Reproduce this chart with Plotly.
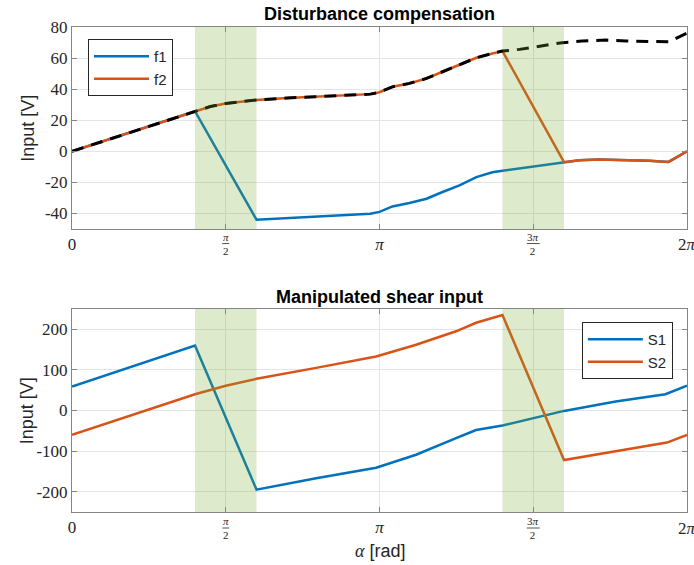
import numpy as np
import plotly.graph_objects as go

PI = np.pi

# ---- Disturbance compensation (angles given in multiples of pi) ----
f1_a = [0, 0.1, 0.2, 0.3, 0.4, 0.6, 0.7, 0.8, 0.9, 0.97, 1.0, 1.042, 1.097, 1.153,
        1.205, 1.26, 1.315, 1.367, 1.4, 1.6, 1.65, 1.714, 1.8, 1.877, 1.94, 2.0]
f1_v = [0, 6.5, 13, 19.5, 25.8, -44, -43, -42, -41, -40.2, -39, -35.5, -33.3, -30.5,
        -26.2, -21.9, -16.6, -13.5, -12.5, -7, -5.8, -5.3, -5.7, -6.0, -6.8, 0]

f2_a = [0, 0.1, 0.2, 0.3, 0.4, 0.45, 0.5, 0.55, 0.6, 0.7, 0.8, 0.9, 0.97, 1.0, 1.042,
        1.097, 1.153, 1.205, 1.26, 1.315, 1.367, 1.4, 1.6, 1.65, 1.714, 1.8, 1.877, 1.94, 2.0]
f2_v = [0, 6.5, 13, 19.5, 25.8, 28.8, 30.8, 32.1, 33.0, 34.3, 35.3, 36.2, 36.8, 38.0, 41.5,
        43.7, 46.9, 51.2, 55.5, 60.2, 63.0, 64.5, -7, -5.8, -5.3, -5.7, -6.0, -6.8, 0]

ref_a = [0, 0.1, 0.2, 0.3, 0.4, 0.45, 0.5, 0.55, 0.6, 0.7, 0.8, 0.9, 0.97, 1.0, 1.042,
         1.097, 1.153, 1.205, 1.26, 1.315, 1.367, 1.4, 1.455, 1.519, 1.594, 1.659,
         1.737, 1.802, 1.877, 1.94, 2.0]
ref_v = [0, 6.5, 13, 19.5, 25.8, 28.8, 30.8, 32.1, 33.0, 34.3, 35.3, 36.2, 36.8, 38.0, 41.5,
         43.7, 46.9, 51.2, 55.5, 60.2, 63.0, 64.5, 65.6, 67.7, 69.9, 71.0,
         71.6, 71.0, 70.5, 70.5, 76]

# ---- Manipulated shear input ----
s1_a = [0, 0.4, 0.6, 0.794, 0.989, 1.119, 1.249, 1.314, 1.4, 1.6, 1.768, 1.93, 2.0]
s1_v = [59, 160, -195, -167, -141, -109, -68, -48, -37, -1, 22, 40, 61]

s2_a = [0, 0.4, 0.5, 0.6, 0.794, 0.989, 1.119, 1.249, 1.314, 1.4, 1.6, 1.768, 1.935, 2.0]
s2_v = [-60, 40, 61, 78, 105, 133, 162, 195, 216, 235, -122, -101, -79, -60]

# switching intervals (multiples of pi)
bands = [(0.4, 0.6), (1.4, 1.6)]

x_ticks = [0, 0.5, 1.0, 1.5, 2.0]
x_ticktext = ["0", "", "<i>π</i>", "", ""]
frac_ticks = [(0.5, "<i>π</i>", 3.5), (1.5, "3<i>π</i>", 6.5)]
end_tick = (2.0, "2<i>π</i>")

y1_ticks = [-40, -20, 0, 20, 40, 60, 80]
y2_ticks = [-200, -100, 0, 100, 200]

BLUE = "#0072BD"
ORANGE = "#D95319"
AX = "#858585"
TXT = "#262626"
SERIF = "Liberation Serif"
SANS = "Liberation Sans"


def rad(vals):
    return [v * PI for v in vals]


fig = go.Figure()
fig.add_trace(go.Scatter(x=rad(f1_a), y=f1_v, name="f1", mode="lines",
                         line=dict(color=BLUE, width=2.5), xaxis="x", yaxis="y",
                         legend="legend"))
fig.add_trace(go.Scatter(x=rad(f2_a), y=f2_v, name="f2", mode="lines",
                         line=dict(color=ORANGE, width=2.5), xaxis="x", yaxis="y",
                         legend="legend"))
fig.add_trace(go.Scatter(x=rad(ref_a), y=ref_v, mode="lines", showlegend=False,
                         line=dict(color="black", width=3, dash="12px,8px"),
                         xaxis="x", yaxis="y"))
fig.add_trace(go.Scatter(x=rad(s1_a), y=s1_v, name="S1", mode="lines",
                         line=dict(color=BLUE, width=2.5), xaxis="x2", yaxis="y2",
                         legend="legend2"))
fig.add_trace(go.Scatter(x=rad(s2_a), y=s2_v, name="S2", mode="lines",
                         line=dict(color=ORANGE, width=2.5), xaxis="x2", yaxis="y2",
                         legend="legend2"))

axis_common = dict(
    showline=True, mirror="ticks", linecolor=AX, linewidth=1,
    ticks="inside", ticklen=5, tickcolor=AX,
    showgrid=True, gridcolor="#e4e4e4", gridwidth=1, zeroline=False,
    tickfont=dict(family=SERIF, size=17, color=TXT),
)

shapes = []
for xa, ya in (("x", "y"), ("x2", "y2")):
    for b0, b1 in bands:
        shapes.append(dict(type="rect", xref=xa, yref=f"{ya} domain",
                           x0=b0 * PI, x1=b1 * PI, y0=0, y1=1,
                           fillcolor="rgba(119,172,48,0.25)", line=dict(width=0),
                           layer="above"))

annotations = []
# stacked fraction tick labels and the 2π end label below each axis
for xa, ybar, ylab in (("x", 0.5525, 0.5525), ("x2", -0.034, -0.034)):
    for pos, num, half in frac_ticks:
        annotations.append(dict(xref=xa, yref="paper", x=pos * PI, y=ybar,
                                text=num + "<br>2", showarrow=False,
                                font=dict(family=SERIF, size=11, color=TXT),
                                xanchor="center", yanchor="middle"))
        shapes.append(dict(type="line", xref=xa, yref="paper",
                           x0=pos * PI - half * PI / 308, x1=pos * PI + half * PI / 308,
                           y0=ybar + 0.001, y1=ybar + 0.001,
                           line=dict(color=TXT, width=0.8), layer="above"))
    annotations.append(dict(xref=xa, yref="paper", x=end_tick[0] * PI, y=ylab,
                            text=end_tick[1], showarrow=False,
                            font=dict(family=SERIF, size=17, color=TXT),
                            xanchor="center", yanchor="middle"))

annotations += [
    dict(xref="paper", yref="paper", x=0.5008, y=1.0268, text="<b>Disturbance compensation</b>",
         showarrow=False, font=dict(family=SANS, size=18, color="black"),
         xanchor="center", yanchor="middle"),
    dict(xref="paper", yref="paper", x=0.5008, y=0.4433, text="<b>Manipulated shear input</b>",
         showarrow=False, font=dict(family=SANS, size=18, color="black"),
         xanchor="center", yanchor="middle"),
    dict(xref="paper", yref="paper", x=-0.072, y=0.7917, text="Input [V]",
         showarrow=False, textangle=-90, font=dict(family=SANS, size=18, color=TXT),
         xanchor="center", yanchor="middle"),
    dict(xref="paper", yref="paper", x=-0.072, y=0.2093, text="Input [V]",
         showarrow=False, textangle=-90, font=dict(family=SANS, size=18, color=TXT),
         xanchor="center", yanchor="middle"),
    dict(xref="paper", yref="paper", x=0.5008, y=-0.080,
         text="<span style='font-family:Liberation Serif'><i>α</i></span> [rad]",
         showarrow=False, font=dict(family=SANS, size=18, color=TXT),
         xanchor="center", yanchor="middle"),
]

legend_style = dict(bgcolor="white", bordercolor=TXT, borderwidth=1,
                    font=dict(family=SANS, size=15, color=TXT),
                    tracegroupgap=0, itemwidth=55)

fig.update_layout(
    width=694, height=565,
    margin=dict(l=72, r=7, t=27, b=53, autoexpand=False),
    paper_bgcolor="white", plot_bgcolor="white",
    xaxis=dict(domain=[0, 1], anchor="y", range=[0, 2 * PI],
               tickvals=rad(x_ticks), ticktext=x_ticktext, **axis_common),
    yaxis=dict(domain=[0.5835, 1], anchor="x", range=[-50, 80],
               tickvals=y1_ticks, ticktext=[str(v) for v in y1_ticks], **axis_common),
    xaxis2=dict(domain=[0, 1], anchor="y2", range=[0, 2 * PI],
                tickvals=rad(x_ticks), ticktext=x_ticktext, **axis_common),
    yaxis2=dict(domain=[0, 0.4186], anchor="x2", range=[-250, 250],
                tickvals=y2_ticks, ticktext=[str(v) for v in y2_ticks], **axis_common),
    legend=dict(x=0.026, y=0.9753, xanchor="left", yanchor="top", **legend_style),
    legend2=dict(x=0.977, y=0.3918, xanchor="right", yanchor="top", **legend_style),
    shapes=shapes,
    annotations=annotations,
    showlegend=True,
)

fig.write_html("out.html")
